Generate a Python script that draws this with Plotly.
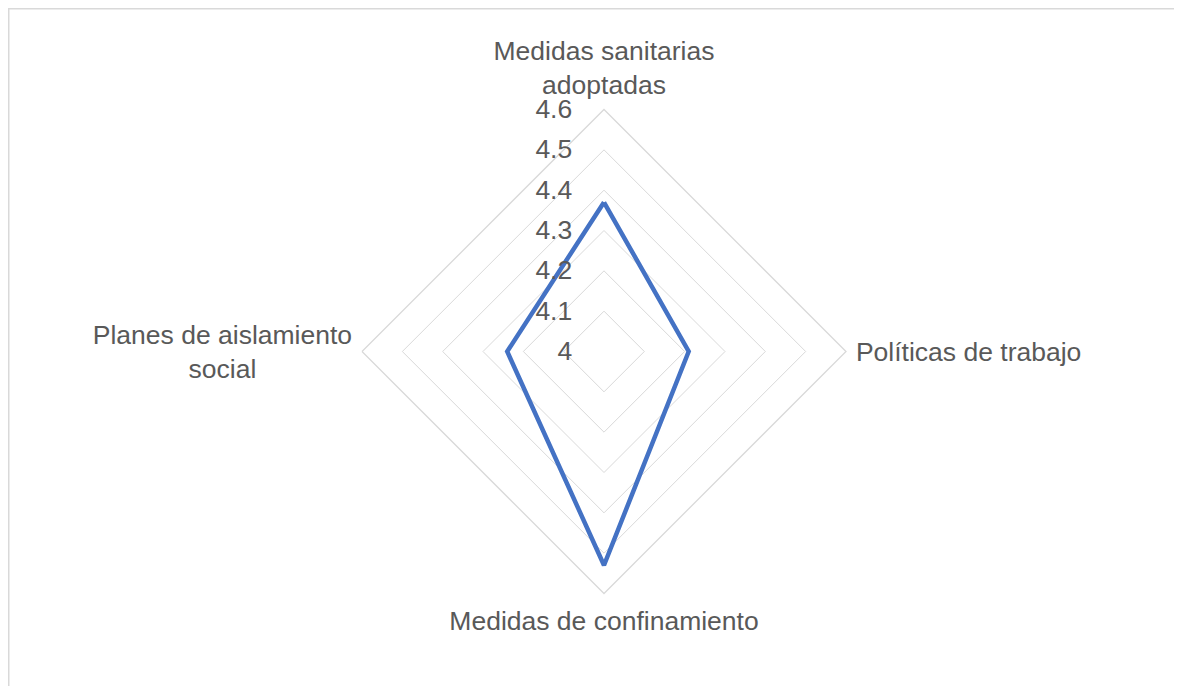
import plotly.graph_objects as go

NBSP = "\u00a0"
categories = ["Medidas sanitarias<br>adoptadas", "Políticas de trabajo",
              "Medidas de confinamiento",
              "Planes de aislamiento<br>social" + NBSP * 13]
values = [4.37, 4.21, 4.53, 4.24]
radial_ticks = [4, 4.1, 4.2, 4.3, 4.4, 4.5, 4.6]
radial_range = [4, 4.6]

# page is rendered with the default 8px body margin, so layout coords are offset
OFF = 8
W, H = 1182, 686
cx, cy, R = 604 - OFF, 351.5 - OFF, 242

fig = go.Figure()
fig.add_trace(go.Scatterpolar(
    r=values + values[:1],
    theta=categories + categories[:1],
    mode="lines",
    line=dict(color="#4472C4", width=4.5),
    showlegend=False,
    hoverinfo="skip",
))

font = dict(family="Liberation Sans, Arial, sans-serif", size=26.5, color="#595959")

fig.update_layout(
    width=W, height=H,
    margin=dict(l=0, r=0, t=0, b=0),
    paper_bgcolor="white",
    font=font,
    polar=dict(
        domain=dict(x=[(cx - R) / W, (cx + R) / W],
                    y=[(H - cy - R) / H, (H - cy + R) / H]),
        bgcolor="white",
        gridshape="linear",
        radialaxis=dict(
            range=radial_range,
            tickvals=radial_ticks,
            ticktext=[f"{t:g}" for t in radial_ticks],
            angle=90,
            side="counterclockwise",
            tickangle=90,
            showline=False,
            ticks="outside",
            ticklen=22,
            tickcolor="rgba(0,0,0,0)",
            gridcolor="#d9d9d9",
            gridwidth=1.3,
            tickfont=font,
        ),
        angularaxis=dict(
            rotation=90,
            direction="clockwise",
            showgrid=False,
            showline=True,
            linecolor="#d9d9d9",
            linewidth=1.3,
            ticks="outside",
            ticklen=4,
            tickcolor="rgba(0,0,0,0)",
            tickfont=font,
        ),
    ),
    shapes=[
        dict(type="line", xref="paper", yref="paper", x0=0, x1=1.0,
             y0=1, y1=1, line=dict(color="#d9d9d9", width=3)),
        dict(type="line", xref="paper", yref="paper", x0=0, x1=0,
             y0=0, y1=1, line=dict(color="#d9d9d9", width=3)),
    ],
)

fig.write_html("out.html")
